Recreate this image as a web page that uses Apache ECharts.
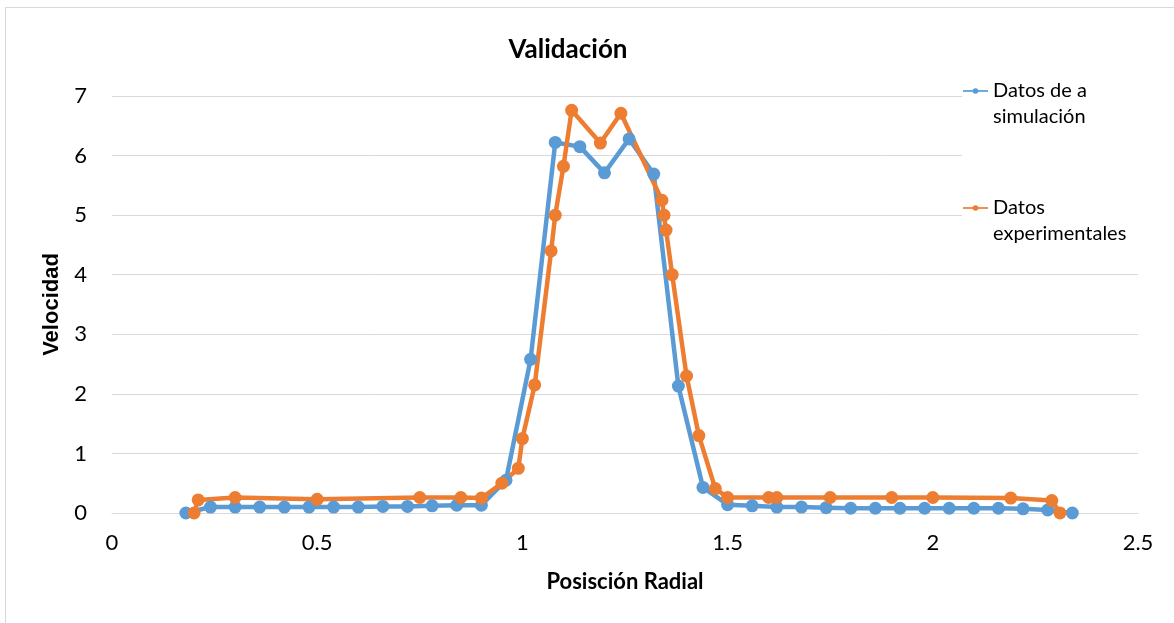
<!DOCTYPE html>
<html>
<head>
<meta charset="utf-8">
<script src="https://cdn.jsdelivr.net/npm/echarts@6/dist/echarts.min.js"></script>
<style>
  html, body { margin: 0; padding: 0; background: #fff; }
  #main { position: absolute; left: 0; top: 0; width: 1174px; height: 623px; }
  .frame { position: absolute; left: 5px; top: 7px; width: 1300px; height: 800px;
    border: 1px solid #d9d9d9; pointer-events: none; }
</style>
</head>
<body>
<div id="main"></div>
<div class="frame"></div>
<script>
// Datos de a simulación
const simX = [0.18, 0.24, 0.30, 0.36, 0.42, 0.48, 0.54, 0.60, 0.66, 0.72, 0.78, 0.84, 0.90,
  0.96, 1.02, 1.08, 1.14, 1.20, 1.26, 1.32, 1.38, 1.44, 1.50, 1.56, 1.62, 1.68, 1.74,
  1.80, 1.86, 1.92, 1.98, 2.04, 2.10, 2.16, 2.22, 2.28, 2.34]
const simY = [0, 0.1, 0.1, 0.1, 0.1, 0.1, 0.1, 0.1, 0.11, 0.11, 0.12, 0.13, 0.13,
  0.55, 2.58, 6.22, 6.15, 5.71, 6.28, 5.69, 2.13, 0.43, 0.14, 0.12, 0.1, 0.1, 0.09,
  0.08, 0.08, 0.08, 0.08, 0.08, 0.08, 0.08, 0.07, 0.05, 0]

// Datos experimentales
const expX = [0.20, 0.21, 0.30, 0.50, 0.75, 0.85, 0.90, 0.95, 0.99, 1.00, 1.03, 1.07, 1.08,
  1.10, 1.12, 1.19, 1.24, 1.34, 1.345, 1.35, 1.365, 1.40, 1.43, 1.47, 1.50, 1.60, 1.62,
  1.75, 1.90, 2.00, 2.19, 2.29, 2.31]
const expY = [0, 0.22, 0.26, 0.23, 0.26, 0.26, 0.25, 0.5, 0.75, 1.25, 2.15, 4.4, 5.0,
  5.82, 6.76, 6.21, 6.71, 5.25, 5.0, 4.75, 4.0, 2.3, 1.3, 0.41, 0.26, 0.26, 0.26,
  0.26, 0.26, 0.26, 0.25, 0.21, 0]

const seriesNames = ['Datos de a\nsimulación', 'Datos\nexperimentales']

const FONT = 'Lato, "Liberation Sans", sans-serif'
const BLUE = '#5B9BD5'
const ORANGE = '#ED7D31'

const chart = echarts.init(document.getElementById('main'))

function makeSeries(name, xs, ys, color) {
  return {
    name,
    type: 'line',
    data: xs.map((x, i) => [x, ys[i]]),
    symbol: 'circle',
    symbolSize: 13,
    showSymbol: true,
    lineStyle: { width: 4.5, color },
    itemStyle: { color },
    animation: false
  }
}

const option = {
  animation: false,
  title: {
    text: 'Validación',
    left: 563,
    top: 32,
    textAlign: 'center',
    textStyle: { fontFamily: FONT, fontSize: 26, fontWeight: 'bold', color: '#000' }
  },
  // white box behind the legend, cuts the upper grid lines like the original
  graphic: [{
    type: 'rect',
    left: 962,
    top: 84,
    z: 1,
    shape: { width: 190, height: 160 },
    style: { fill: '#fff' },
    silent: true
  }],
  legend: {
    orient: 'vertical',
    left: 962,
    top: 52,
    padding: 0,
    itemWidth: 25,
    itemHeight: 7,
    itemGap: 39,
    itemStyle: { borderWidth: 0 },
    lineStyle: { width: 2, opacity: 0.85 },
    data: seriesNames,
    // leading blank line keeps the icon level with the first text line
    formatter: name => '\n' + name,
    textStyle: {
      fontFamily: FONT,
      fontSize: 20,
      color: '#000',
      lineHeight: 26
    }
  },
  grid: {
    left: 112,
    right: 36,
    top: 96,
    bottom: 110
  },
  xAxis: {
    type: 'value',
    min: 0,
    max: 2.5,
    interval: 0.5,
    name: 'Posisción Radial',
    nameLocation: 'middle',
    nameGap: 58,
    nameTextStyle: { fontFamily: FONT, fontSize: 22, fontWeight: 'bold', color: '#000' },
    axisLine: { show: true, lineStyle: { color: '#d9d9d9', width: 1 } },
    axisTick: { show: false },
    splitLine: { show: false },
    axisLabel: { fontFamily: FONT, fontSize: 22, color: '#000', margin: 19 }
  },
  yAxis: {
    type: 'value',
    min: 0,
    max: 7,
    interval: 1,
    name: 'Velocidad',
    nameLocation: 'middle',
    nameRotate: 90,
    nameGap: 49,
    nameTextStyle: { fontFamily: '"Liberation Sans", Arial, sans-serif', fontSize: 22, fontWeight: 'bold', color: '#000' },
    axisLine: { show: false },
    axisTick: { show: false },
    splitLine: { lineStyle: { color: '#d9d9d9', width: 1 } },
    axisLabel: { fontFamily: FONT, fontSize: 22, color: '#000', margin: 25 }
  },
  series: [
    makeSeries(seriesNames[0], simX, simY, BLUE),
    makeSeries(seriesNames[1], expX, expY, ORANGE)
  ]
}

chart.setOption(option)
</script>
</body>
</html>
